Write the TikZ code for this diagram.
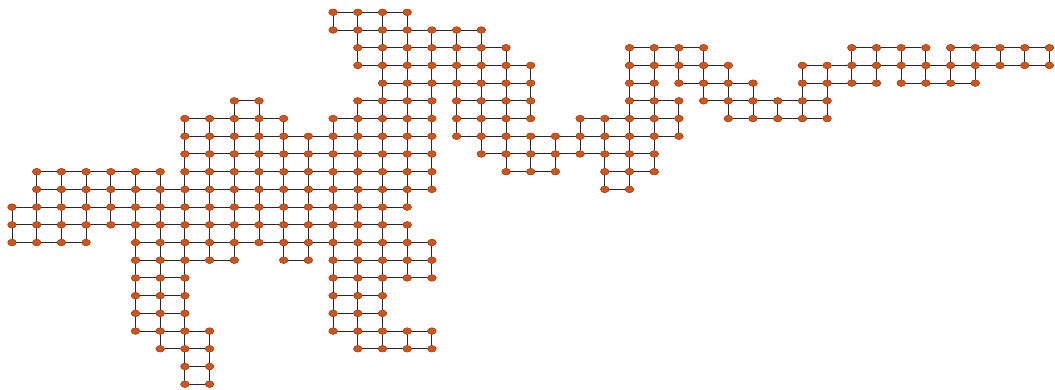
\documentclass[tikz,border=0pt]{standalone}
\usetikzlibrary{shapes.geometric}
\definecolor{dotc}{RGB}{205,85,30}
\definecolor{edgec}{RGB}{45,40,40}
\pgfdeclarelayer{background}
\pgfsetlayers{background,main}
\tikzset{
  dot/.style={ellipse,minimum width=8.5pt,minimum height=6.5pt,inner sep=0pt,fill=dotc,draw=dotc!80!black,line width=0.4pt},
  edge/.style={draw=edgec,line width=1pt}
}
\begin{document}
\begin{tikzpicture}[x=1pt,y=-1pt]
\useasboundingbox (0,0) rectangle (1055,390);
\def\hruns{0/13/16,1/13/19,2/14/20,2/25/28,2/34/37,2/38/42,3/14/21,3/25/29,3/32/42,4/15/21,4/25/26,4/27/30,4/32/35,4/36/39,5/9/10,5/14/17,5/18/21,5/25/27,5/28/33,6/7/11,6/13/17,6/18/21,6/23/27,6/29/33,7/7/17,7/18/27,8/7/17,8/19/26,9/1/6,9/7/17,9/20/22,9/24/26,10/1/17,10/24/25,11/0/16,12/0/16,13/0/3,13/5/17,14/5/9,14/11/12,14/13/17,15/5/7,15/13/17,16/5/7,16/13/15,17/5/7,17/13/15,18/5/8,18/13/17,19/6/8,19/14/17,20/7/8,21/7/8}
\def\vruns{0/11/13,1/9/13,2/9/13,3/9/13,4/9/12,5/9/18,6/9/19,7/6/21,8/6/14,8/18/21,9/5/14,10/5/13,11/6/14,12/7/14,13/0/1,13/6/18,14/0/3,14/5/19,15/0/19,16/0/11,16/12/15,16/18/19,17/1/10,17/13/15,17/18/19,18/1/7,19/1/8,20/2/9,21/3/6,21/7/9,22/7/9,23/6/8,24/6/10,25/2/10,26/2/9,27/2/4,27/5/7,28/2/5,29/3/6,30/4/6,31/5/6,32/3/6,33/3/6,34/2/4,35/2/4,36/2/4,37/2/4,38/2/4,39/2/4,40/2/3,41/2/3,42/2/3}
% nodes
\foreach \r/\a/\b in \hruns {
  \foreach \c in {\a,...,\b}
    \node[dot] (n-\c-\r) at ({12+24.7*\c},{12.3+17.71*\r}) {};
}
\foreach \c/\a/\b in \vruns {
  \foreach \r in {\a,...,\b}
    \node[dot] (n-\c-\r) at ({12+24.7*\c},{12.3+17.71*\r}) {};
}
% connectors
\begin{pgfonlayer}{background}
\foreach \r/\a/\b in \hruns {
  \pgfmathtruncatemacro{\bb}{\b-1}
  \foreach \c in {\a,...,\bb} {
    \pgfmathtruncatemacro{\d}{\c+1}
    \draw[edge] (n-\c-\r.center) -- (n-\d-\r.center);
  }
}
\foreach \c/\a/\b in \vruns {
  \pgfmathtruncatemacro{\bb}{\b-1}
  \foreach \r in {\a,...,\bb} {
    \pgfmathtruncatemacro{\d}{\r+1}
    \draw[edge] (n-\c-\r.center) -- (n-\c-\d.center);
  }
}
\end{pgfonlayer}
\end{tikzpicture}
\end{document}
